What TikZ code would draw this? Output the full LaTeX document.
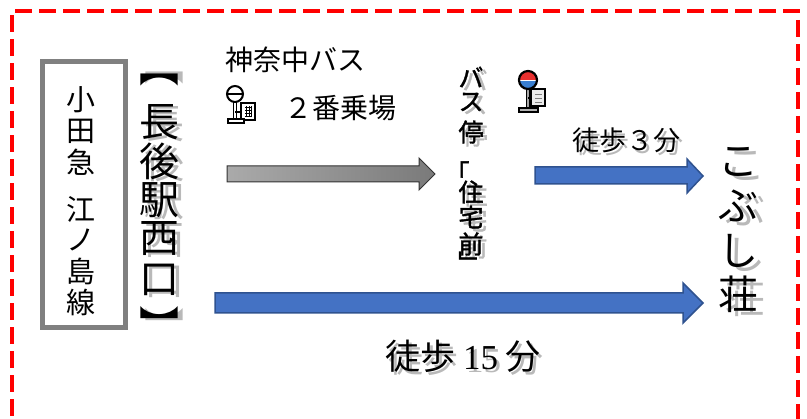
\documentclass[tikz,border=0pt]{standalone}
\usepackage{fontspec}
\newfontfamily\cjk{Noto Sans CJK JP}
\newfontfamily\cjkb[FakeBold=1.5]{Noto Sans CJK JP}
\newfontfamily\lserif{Liberation Serif}
\definecolor{arrowblue}{HTML}{4472C4}
\definecolor{arrowedge}{HTML}{2F528F}
\definecolor{garrowL}{RGB}{170,170,170}
\definecolor{garrowR}{RGB}{122,122,122}
\definecolor{boxgray}{RGB}{128,128,128}
\definecolor{shadowgray}{RGB}{185,185,185}
\definecolor{stopred}{HTML}{E8302F}
\definecolor{stopblue}{HTML}{3A7FD0}
\begin{document}
\begin{tikzpicture}[x=1pt,y=-1pt,
  txt/.style={inner sep=0pt, outer sep=0pt},
  shd/.style={txt, text=shadowgray},
  blockarrow/.style={fill=arrowblue, draw=arrowedge, line width=1.5pt, line join=miter},
  grayarrow/.style={left color=garrowL, right color=garrowR, draw=black!80, line width=1pt},
  border/.style={draw=red, line width=4pt, dash pattern=on 17pt off 7pt},
  f29/.style={font=\cjk\fontsize{29}{29}\selectfont},
  f40/.style={font=\cjk\fontsize{40}{40}\selectfont},
  f25b/.style={font=\cjkb\fontsize{25}{25}\selectfont},
  f28/.style={font=\cjk\fontsize{28}{28}\selectfont},
  icon/.style={draw=black, line width=2pt},
]
\useasboundingbox (0,0) rectangle (807,419);
\fill[white] (0,0) rectangle (807,419);

% red dashed frame
\draw[border] (12,440) -- (12,11) -- (798,11) -- (798,440);

% Odakyu box
\node[draw=boxgray, line width=5pt, minimum width=83pt, minimum height=266pt, inner sep=0pt] (odbox) at (84,194.5) {};
\foreach \c/\y [count=\i] in {小/100,田/131,急/162,江/209,ノ/240,島/271,線/302}
  \node[txt,f29] (od\i) at (81,\y) {\c};

% Chogo station west exit
\foreach \c/\y [count=\i] in {長/122,後/161,駅/200,西/239,口/280}
  \node[shd,f40] (chs\i) at (164,\y+2) {\c};
\node[shd,f40] (chbs1) at (164,78) {︻};
\node[shd,f40] (chbs2) at (164,326) {︼};
\node[txt,f40] (chb1) at (159,80) {︻};
\foreach \c/\y [count=\i] in {長/122,後/161,駅/200,西/239,口/280}
  \node[txt,f40] (ch\i) at (159,\y) {\c};
\node[txt,f40] (chb2) at (159,324) {︼};

% bus company and platform
\node[txt,f28] (kanachu) at (295,60) {神奈中バス};
\node[txt,f28] (platform) at (340,108) {２番乗場};

% bus stop icon 1 (black and white)
\draw[line width=4.5pt, black] (235,100) -- (235,120);
\draw[line width=1.5pt, white] (235,103) -- (235,119);
\draw[icon, fill=white] (241,103) rectangle (255,120);
\foreach \yy in {107,110,113,116} \draw[line width=0.6pt] (245,\yy) -- (252,\yy);
\foreach \xx in {246.5,249,251.5} \draw[line width=0.6pt] (\xx,106) -- (\xx,117);
\draw[line width=1.8pt] (235,112) -- (241,112);
\draw[icon, fill=white] (228,119.5) rectangle (244,123);
\draw[icon, fill=white] (235,94) circle (8);
\draw[line width=1.8pt] (227,94) -- (243,94);

% gray arrow (bus ride)
\shadedraw[grayarrow] (227,166) -- (419,166) -- (419,158) -- (435,174) -- (419,190) -- (419,182) -- (227,182) -- cycle;

% bus stop name column
\foreach \c/\y [count=\i] in {バ/77,ス/102,停/132,住/192,宅/217,前/244}
  \node[shd,f25b] (bss\i) at (475,\y+3) {\c};
\foreach \c/\y [count=\i] in {バ/77,ス/102,停/132,住/192,宅/217,前/244}
  \node[txt,f25b] (bs\i) at (471,\y) {\c};
\node[txt,f25b] (bsq1) at (457,172) {「};
\node[txt,f25b] (bsq2) at (471,262) {﹂};

% bus stop icon 2 (colour)
\draw[line width=4.5pt, black] (528,88) -- (528,109);
\draw[line width=1.8pt, gray!70] (528,90) -- (528,108);
\draw[icon, fill=gray!15] (531,89) rectangle (545,106);
\foreach \yy in {94,98,102} \draw[line width=0.5pt, gray] (535,\yy) -- (542,\yy);
\draw[line width=1.5pt] (528,98) -- (531,98);
\draw[icon, fill=gray!60] (519,108) rectangle (538,112);
\begin{scope}
  \clip (528,80) circle (9);
  \fill[stopred] (518,70) rectangle (538,80);
  \fill[stopblue] (518,80) rectangle (538,90);
  \draw[white, line width=1.6pt] (518,80.5) -- (538,80.5);
\end{scope}
\draw[line width=2.2pt] (528,80) circle (9);

% walk 3 min
\node[shd,font=\cjk\fontsize{27}{27}\selectfont] (w3s) at (629,143) {徒歩３分};
\node[txt,font=\cjk\fontsize{27}{27}\selectfont] (w3) at (626,140) {徒歩３分};
\draw[blockarrow] (535,167) -- (687,167) -- (687,159) -- (703,176) -- (687,193) -- (687,184) -- (535,184) -- cycle;

% destination
\foreach \c/\y [count=\i] in {こ/162,ぶ/206,し/251,荘/294}
  \node[shd,f40] (kbs\i) at (745,\y+4) {\c};
\foreach \c/\y [count=\i] in {こ/162,ぶ/206,し/251,荘/294}
  \node[txt,f40] (kb\i) at (738,\y) {\c};

% walk 15 min
\draw[blockarrow] (215,293) -- (683,293) -- (683,283) -- (703,303) -- (683,323) -- (683,313) -- (215,313) -- cycle;
\node[shd,font=\cjk\fontsize{35}{35}\selectfont] (w15s) at (466,359) {徒歩 {\lserif 15} 分};
\node[txt,font=\cjk\fontsize{35}{35}\selectfont] (w15) at (463,356) {徒歩 {\lserif 15} 分};
\end{tikzpicture}
\end{document}
